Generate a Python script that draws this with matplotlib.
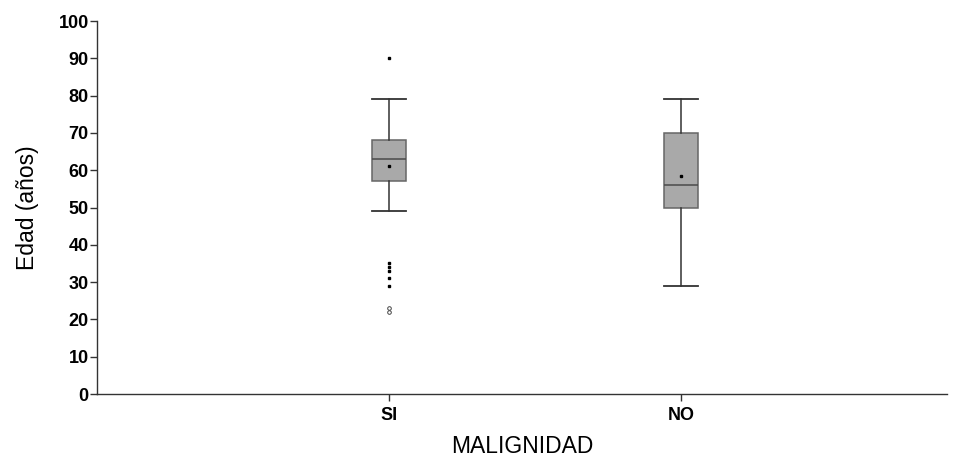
import numpy as np
import matplotlib.pyplot as plt

plt.rcParams['font.family'] = ['Liberation Sans', 'DejaVu Sans']

# values
groups = ['SI', 'NO']
whisker_low = [49, 29]
q1 = [57, 50]
medians = [63, 56]
q3 = [68, 70]
whisker_high = [79, 79]
means = [61, 58.5]
outliers_filled = [[90, 35.2, 34.1, 33.0, 31.0, 28.9], []]
outliers_open = [[23.1, 22.1], []]


def main():
    fig = plt.figure(figsize=(9.63, 4.59), dpi=100)
    ax = fig.add_axes([0.1007, 0.1416, 0.8827, 0.8126])

    pos = np.arange(1, len(groups) + 1)
    stats = []
    for i, g in enumerate(groups):
        stats.append({'label': g, 'whislo': whisker_low[i], 'q1': q1[i],
                      'med': medians[i], 'q3': q3[i], 'whishi': whisker_high[i],
                      'mean': means[i], 'fliers': []})

    ax.bxp(stats, positions=pos, widths=0.116, patch_artist=True,
           showmeans=True, showfliers=False,
           boxprops=dict(facecolor='#a9a9a9', edgecolor='#666666', linewidth=1.1),
           medianprops=dict(color='#4a4a4a', linewidth=1.1),
           whiskerprops=dict(color='#333333', linewidth=1.1),
           capprops=dict(color='#333333', linewidth=1.3),
           capwidths=0.116,
           meanprops=dict(marker='s', markerfacecolor='black',
                          markeredgecolor='black', markersize=1.6))

    for p, vals in zip(pos, outliers_filled):
        if vals:
            ax.plot([p] * len(vals), vals, 's', color='black', markersize=2.0,
                    linestyle='none')
    for p, vals in zip(pos, outliers_open):
        if vals:
            ax.plot([p] * len(vals), vals, 'o', markerfacecolor='white',
                    markeredgecolor='#444444', markersize=2.6, markeredgewidth=0.7,
                    linestyle='none')

    ax.set_xlim(0, 2.91)
    ax.set_ylim(0, 100)
    ax.set_yticks(np.arange(0, 101, 10))
    ax.set_xticks(pos)
    ax.set_xticklabels(groups, fontweight='bold', fontsize=13)
    for lbl in ax.get_yticklabels():
        lbl.set_fontweight('bold')
        lbl.set_fontsize(13)

    for s in ['top', 'right']:
        ax.spines[s].set_visible(False)
    for s in ['left', 'bottom']:
        ax.spines[s].set_color('#333333')
        ax.spines[s].set_linewidth(1.0)
    ax.tick_params(direction='out', length=5, width=1, color='#333333', pad=1)
    ax.tick_params(axis='x', pad=4)

    ax.set_ylabel('Edad (años)', fontsize=16.5, labelpad=14)
    ax.set_xlabel('MALIGNIDAD', fontsize=16.5, labelpad=8)

    plt.savefig('out.png', dpi=100)
    plt.close()


if __name__ == '__main__':
    main()
